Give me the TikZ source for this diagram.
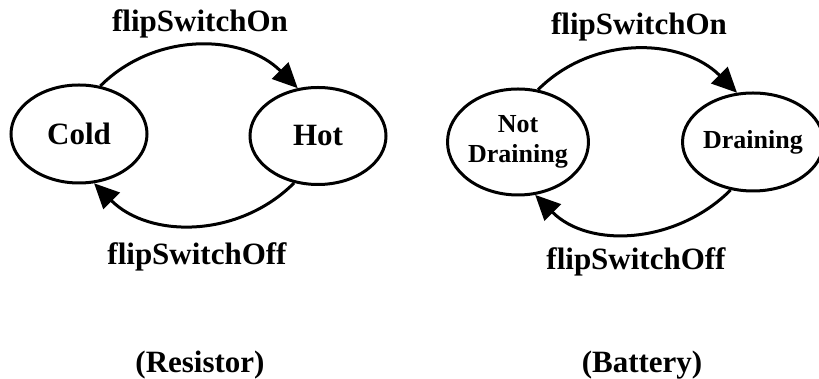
\documentclass[tikz,border=0pt]{standalone}
\usepackage{fontspec}
\setmainfont{Liberation Serif}
\usetikzlibrary{shapes.geometric,arrows.meta}

\begin{document}
\begin{tikzpicture}[x=1pt, y=1pt]
  \tikzstyle{state}=[ellipse, draw, line width=3pt, inner sep=0pt, align=center, font=\fontsize{31}{34}\selectfont\bfseries]
  \tikzstyle{smallstate}=[state, font=\fontsize{26}{30}\selectfont\bfseries]
  \tikzstyle{trans}=[-{Triangle[length=25pt,width=23pt]}, line width=3pt]
  \tikzstyle{lbl}=[anchor=base, inner sep=0pt, font=\fontsize{31}{34}\selectfont\bfseries]

  \useasboundingbox (0,0) rectangle (819,379);

  % Resistor
  \node[state, minimum width=136, minimum height=98] (cold) at (79,245) {Cold};
  \node[state, minimum width=136, minimum height=97] (hot) at (318,243) {Hot};
  \draw[trans] (cold.66) to[out=45, in=135] (hot.113);
  \draw[trans] (hot.243) to[out=225, in=-45] (cold.287);
  \node[lbl] (onA) at (200,347) {flipSwitchOn};
  \node[lbl] (offA) at (197,114) {flipSwitchOff};
  \node[lbl] (resistor) at (200,6) {(Resistor)};

  % Battery
  \node[smallstate, minimum width=137, minimum height=106] (notdrain) at (518,237) {Not\\Draining};
  \node[smallstate, minimum width=128, minimum height=98] (drain) at (753,237) {Draining};
  \draw[trans] (notdrain.69) to[out=45, in=135] (drain.108);
  \draw[trans] (drain.245) to[out=225, in=-45] (notdrain.288);
  \node[lbl] (onB) at (639,344) {flipSwitchOn};
  \node[lbl] (offB) at (636,109) {flipSwitchOff};
  \node[lbl] (battery) at (642,6) {(Battery)};
\end{tikzpicture}
\end{document}
